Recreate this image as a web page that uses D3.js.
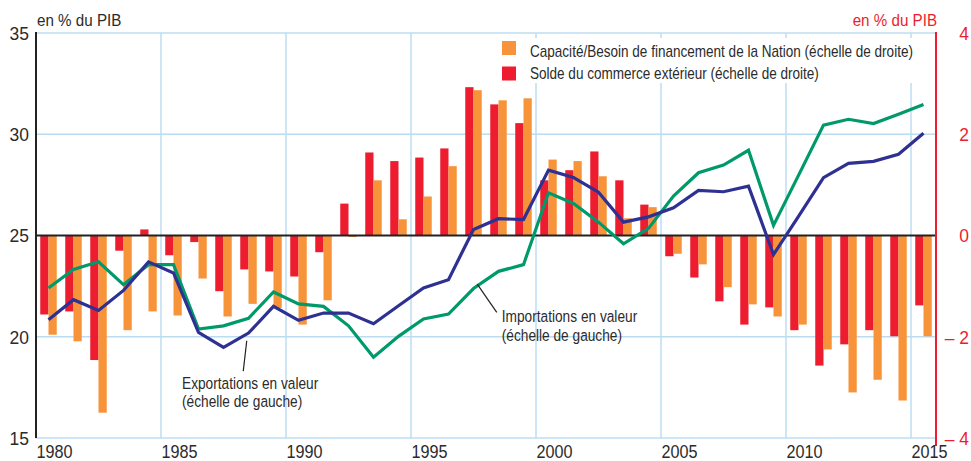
<!DOCTYPE html>
<html>
<head>
<meta charset="utf-8">
<script src="https://cdn.jsdelivr.net/npm/d3@7"></script>
<style>
  html, body { margin: 0; padding: 0; background: #fff; }
  svg text { font-family: 'Liberation Sans', Arial, sans-serif; }
</style>
</head>
<body>
<svg id="chart" width="971" height="461"></svg>
<script>
const years = d3.range(1980, 2016);
const solde = [-1.56,-1.50,-2.46,-0.30,0.12,-0.39,-0.13,-1.10,-0.67,-0.71,-0.81,-0.33,0.63,1.64,1.47,1.54,1.72,2.93,2.59,2.22,1.09,1.29,1.66,1.09,0.61,-0.41,-0.83,-1.30,-1.76,-1.42,-1.87,-2.57,-2.15,-1.87,-1.99,-1.38];
const capacite = [-1.96,-2.09,-3.50,-1.87,-1.50,-1.58,-0.85,-1.60,-1.35,-1.43,-1.76,-1.28,-0.03,1.09,0.32,0.77,1.37,2.87,2.67,2.71,1.50,1.47,1.17,0.34,0.56,-0.36,-0.57,-1.02,-1.36,-1.60,-1.76,-2.25,-3.10,-2.85,-3.26,-1.99];
const importations = [22.41,23.32,23.70,22.57,23.56,23.56,20.38,20.54,20.91,22.21,21.62,21.50,20.54,18.99,20.02,20.88,21.12,22.38,23.23,23.56,27.11,26.58,25.66,24.59,25.35,26.95,28.10,28.48,29.21,25.50,27.97,30.45,30.74,30.53,30.99,31.47];
const exportations = [20.84,21.83,21.30,22.29,23.70,23.15,20.21,19.47,20.18,21.50,20.81,21.17,21.17,20.64,21.53,22.41,22.82,25.30,25.83,25.79,28.23,27.86,27.14,25.66,25.92,26.37,27.23,27.16,27.44,24.06,25.95,27.86,28.56,28.66,29.01,30.05];
const xTicks = [1980,1985,1990,1995,2000,2005,2010,2015];
const leftTicks = [15,20,25,30,35];
const rightTicks = [-4,-2,0,2,4];
const legendLabels = ["Capacité/Besoin de financement de la Nation (échelle de droite)", "Solde du commerce extérieur (échelle de droite)"];

const C = { orange: "#f7943a", red: "#ed1c2e", green: "#009a6a", blue: "#2e3192", grid: "#bcdcf2", text: "#2b2b2b", axisRed: "#ed1c2e" };

const svg = d3.select("#chart");
const L = 36, R = 936, T = 33, B = 438;
const x = d3.scaleLinear().domain([1980, 2016]).range([L, R]);
const yL = d3.scaleLinear().domain([15, 35]).range([B, T]);
const yR = d3.scaleLinear().domain([-4, 4]).range([B, T]);

// condensed text helper (horizontal scaling to mimic a condensed face)
function ctext(parent, px, py, str, opts) {
  const o = Object.assign({ size: 16.5, sx: 0.82, anchor: "start", fill: C.text, dy: null }, opts || {});
  const gg = parent.append("g").attr("transform", `translate(${px},${py}) scale(${o.sx},1)`);
  const t = gg.append("text").attr("x", 0).attr("y", 0)
    .attr("text-anchor", o.anchor).attr("font-size", o.size).attr("fill", o.fill).text(str);
  if (o.dy) t.attr("dy", o.dy);
  return t;
}

// gridlines
const g = svg.append("g");
g.selectAll(".vg").data(xTicks.slice(1)).join("line")
  .attr("x1", d => x(d)).attr("x2", d => x(d)).attr("y1", T).attr("y2", B)
  .attr("stroke", C.grid).attr("stroke-width", 1.5);
g.selectAll(".hg").data(leftTicks.filter(d => d !== 25)).join("line")
  .attr("x1", L).attr("x2", R).attr("y1", d => yL(d)).attr("y2", d => yL(d))
  .attr("stroke", C.grid).attr("stroke-width", 1.5);

// bars
const bw = x(1980.33) - x(1980);
const bars = svg.append("g");
bars.selectAll(".red").data(years).join("rect")
  .attr("x", (d) => x(d + 0.5) - bw).attr("width", bw)
  .attr("y", (d, i) => Math.min(yR(0), yR(solde[i])))
  .attr("height", (d, i) => Math.abs(yR(solde[i]) - yR(0)))
  .attr("fill", C.red);
bars.selectAll(".orange").data(years).join("rect")
  .attr("x", (d) => x(d + 0.5)).attr("width", bw)
  .attr("y", (d, i) => Math.min(yR(0), yR(capacite[i])))
  .attr("height", (d, i) => Math.max(0.8, Math.abs(yR(capacite[i]) - yR(0))))
  .attr("fill", C.orange);

// zero line
svg.append("line").attr("x1", L).attr("x2", R + 1).attr("y1", yR(0)).attr("y2", yR(0))
  .attr("stroke", "#222").attr("stroke-width", 2);

// lines
const line = d3.line().x((d, i) => x(years[i] + 0.5)).y(d => yL(d));
svg.append("path").datum(importations).attr("d", line)
  .attr("fill", "none").attr("stroke", C.green).attr("stroke-width", 3.2).attr("stroke-linejoin", "miter");
svg.append("path").datum(exportations).attr("d", line)
  .attr("fill", "none").attr("stroke", C.blue).attr("stroke-width", 3.2).attr("stroke-linejoin", "miter");

// axes
svg.append("line").attr("x1", L).attr("x2", L).attr("y1", T - 1).attr("y2", B)
  .attr("stroke", "#222").attr("stroke-width", 2);
svg.append("line").attr("x1", R).attr("x2", R).attr("y1", T - 1).attr("y2", B + 8)
  .attr("stroke", C.axisRed).attr("stroke-width", 2);

const axT = svg.append("g");
leftTicks.forEach(d => ctext(axT, 29, yL(d), String(d), { size: 19, sx: 0.92, anchor: "end", dy: "0.36em" }));
rightTicks.forEach(d => ctext(axT, 969, yR(d), d < 0 ? "\u2013 " + Math.abs(d) : String(d),
  { size: 19, sx: 0.92, anchor: "end", dy: "0.36em", fill: C.axisRed }));
xTicks.forEach(d => ctext(axT, x(d) + 0.5, 457.5, String(d), { size: 18, sx: 0.9 }));

ctext(svg, L + 1, 26, "en % du PIB", { size: 16.5, sx: 0.92 });
ctext(svg, R + 1, 26, "en % du PIB", { size: 16.5, sx: 0.92, anchor: "end", fill: C.axisRed });

// legend
const lg = svg.append("g");
lg.append("rect").attr("x", 495).attr("y", 38).attr("width", 430).attr("height", 45).attr("fill", "#fff");
const legendColors = [C.orange, C.red];
legendLabels.forEach((lab, i) => {
  lg.append("rect").attr("x", 502).attr("y", 41 + i * 25.5).attr("width", 14).attr("height", 14).attr("fill", legendColors[i]);
  ctext(lg, 530, 56.5 + i * 22.5, lab, { size: 16.8, sx: 0.806 });
});

// annotations
const ann = svg.append("g");
function annotate(ax, ay, bx, by, tx, ty, lines) {
  ann.append("line").attr("x1", ax).attr("y1", ay).attr("x2", bx).attr("y2", by)
    .attr("stroke", "#222").attr("stroke-width", 1.2);
  lines.forEach((t, i) => ctext(ann, tx, ty + i * 18.5, t, { size: 16.5, sx: 0.83 }));
}
annotate(x(1988.43), yL(19.8), x(1988.29), yL(18.3), x(1985.84), yL(17.44), ["Exportations en valeur", "(échelle de gauche)"]);
annotate(x(1997.65), yL(22.6), x(1998.43), yL(21.2), x(1998.63), yL(20.71), ["Importations en valeur", "(échelle de gauche)"]);
</script>
</body>
</html>
